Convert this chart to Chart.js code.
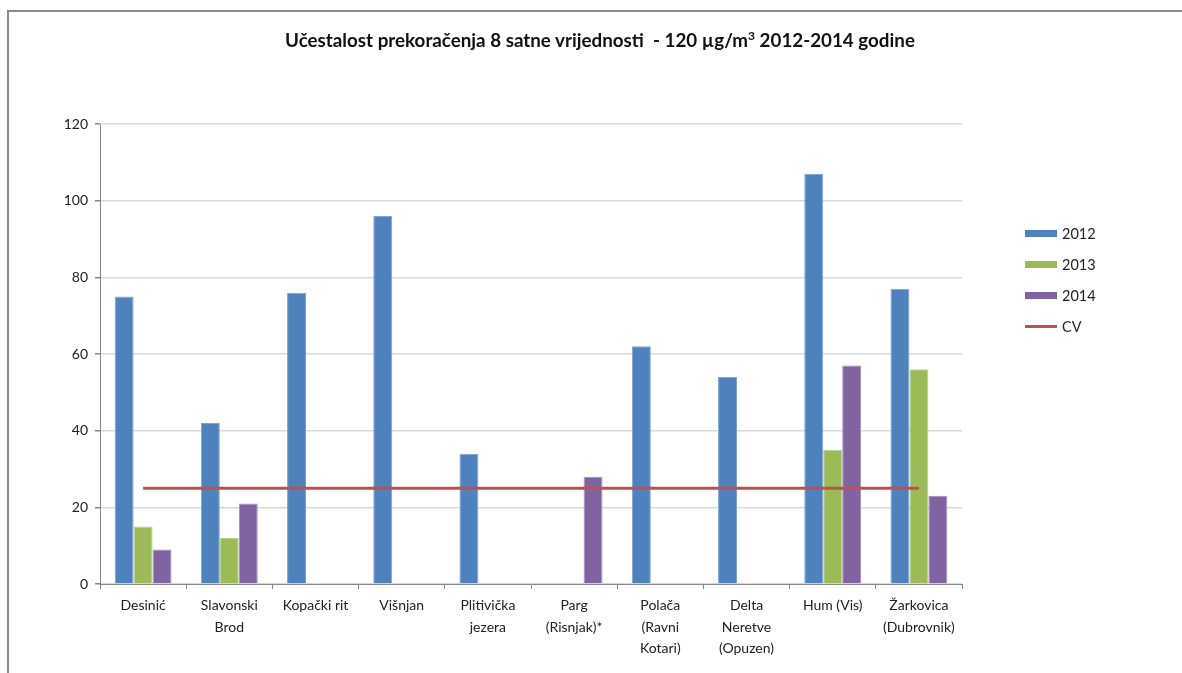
<!DOCTYPE html>
<html>
<head>
<meta charset="utf-8">
<script src="https://cdn.jsdelivr.net/npm/chart.js@4"></script>
<style>
  html, body { margin: 0; padding: 0; background: #fff; }
  #wrap { position: relative; width: 1182px; height: 673px; overflow: hidden; }
  #frame { position: absolute; left: 7px; top: 10px; width: 1300px; height: 800px;
           border-top: 2px solid #8a8a8a; border-left: 2px solid #8a8a8a; box-sizing: border-box; }
  canvas { position: absolute; left: 0; top: 0; }
  #title { position: absolute; left: 0; width: 1200px; top: 28px; text-align: center;
           font-family: Lato, "Open Sans", sans-serif; font-weight: bold; font-size: 18.8px;
           color: #111; line-height: 24px; white-space: pre; }
  #title sup { font-size: 12px; line-height: 0; vertical-align: 7px; }
  #legend { position: absolute; left: 1025px; top: 218px; font-family: Lato, "Open Sans", sans-serif;
            font-size: 14.5px; color: #222; }
  #legend .item { height: 31px; display: flex; align-items: center; }
  #legend .sw { width: 32px; margin-right: 5px; }
</style>
</head>
<body>
<div id="wrap">
  <div id="frame"></div>
  <canvas id="c" width="1182" height="673"></canvas>
  <div id="title">Učestalost prekoračenja 8 satne vrijednosti  - 120 µg/m<sup>3</sup> 2012-2014 godine</div>
  <div id="legend"></div>
</div>
<script>
const stations = [
  'Desinić',
  ['Slavonski', 'Brod'],
  'Kopački rit',
  'Višnjan',
  ['Plitivička', 'jezera'],
  ['Parg', '(Risnjak)*'],
  ['Polača', '(Ravni', 'Kotari)'],
  ['Delta', 'Neretve', '(Opuzen)'],
  'Hum (Vis)',
  ['Žarkovica', '(Dubrovnik)']
];
const values2012 = [75, 42, 76, 96, 34, null, 62, 54, 107, 77];
const values2013 = [15, 12, null, null, null, null, null, null, 35, 56];
const values2014 = [9, 21, null, null, null, 28, null, null, 57, 23];
const cvLimit = [25, 25, 25, 25, 25, 25, 25, 25, 25, 25];
const yTicks = [0, 20, 40, 60, 80, 100, 120];

const FONT = 'Lato, "Open Sans", sans-serif';
const colors = { y2012: '#4F81BD', y2013: '#9BBB59', y2014: '#8064A2', cv: '#C0504D' };

const barCommon = { barPercentage: 1, categoryPercentage: 0.66, borderWidth: 1, order: 1 };

const chart = new Chart(document.getElementById('c'), {
  type: 'bar',
  data: {
    labels: stations,
    datasets: [
      { label: '2012', data: values2012, backgroundColor: colors.y2012, borderColor: '#7ea2d4', ...barCommon },
      { label: '2013', data: values2013, backgroundColor: colors.y2013, borderColor: '#b7d08a', ...barCommon },
      { label: '2014', data: values2014, backgroundColor: colors.y2014, borderColor: '#a38ec0', ...barCommon },
      { label: 'CV', type: 'line', data: cvLimit, borderColor: colors.cv, backgroundColor: colors.cv,
        borderWidth: 3, pointRadius: 0, pointHoverRadius: 0, fill: false, order: 0 }
    ]
  },
  options: {
    responsive: false,
    animation: false,
    layout: { padding: { left: 0, right: 220, top: 124, bottom: 0 } },
    plugins: {
      legend: { display: false },
      tooltip: { enabled: false },
      title: { display: false }
    },
    scales: {
      x: {
        offset: true,
        grid: { display: true, drawOnChartArea: false, drawTicks: true, tickLength: 5, tickColor: '#868686' },
        border: { display: true, color: '#868686', width: 1 },
        ticks: { color: '#222', font: { family: FONT, size: 14, lineHeight: 1.55 }, padding: 5.5, maxRotation: 0, autoSkip: false },
        afterFit(scale) { scale.height = 89; }
      },
      y: {
        min: 0, max: 120,
        afterBuildTicks(scale) { scale.ticks = yTicks.map(v => ({ value: v })); },
        grid: { color: '#d9d9d9', lineWidth: 1.5, drawTicks: true, tickLength: 5, tickColor: '#868686' },
        border: { display: true, color: '#868686', width: 1 },
        ticks: { color: '#222', font: { family: FONT, size: 14 }, padding: 7 },
        afterFit(scale) { scale.width = 100; }
      }
    }
  }
});

// Legend beside the plot
const legend = document.getElementById('legend');
chart.data.datasets.forEach(ds => {
  const item = document.createElement('div');
  item.className = 'item';
  const sw = document.createElement('span');
  sw.className = 'sw';
  sw.style.height = ds.type === 'line' ? '3px' : '7px';
  sw.style.background = ds.backgroundColor;
  const txt = document.createElement('span');
  txt.textContent = ds.label;
  item.appendChild(sw);
  item.appendChild(txt);
  legend.appendChild(item);
});
</script>
</body>
</html>
